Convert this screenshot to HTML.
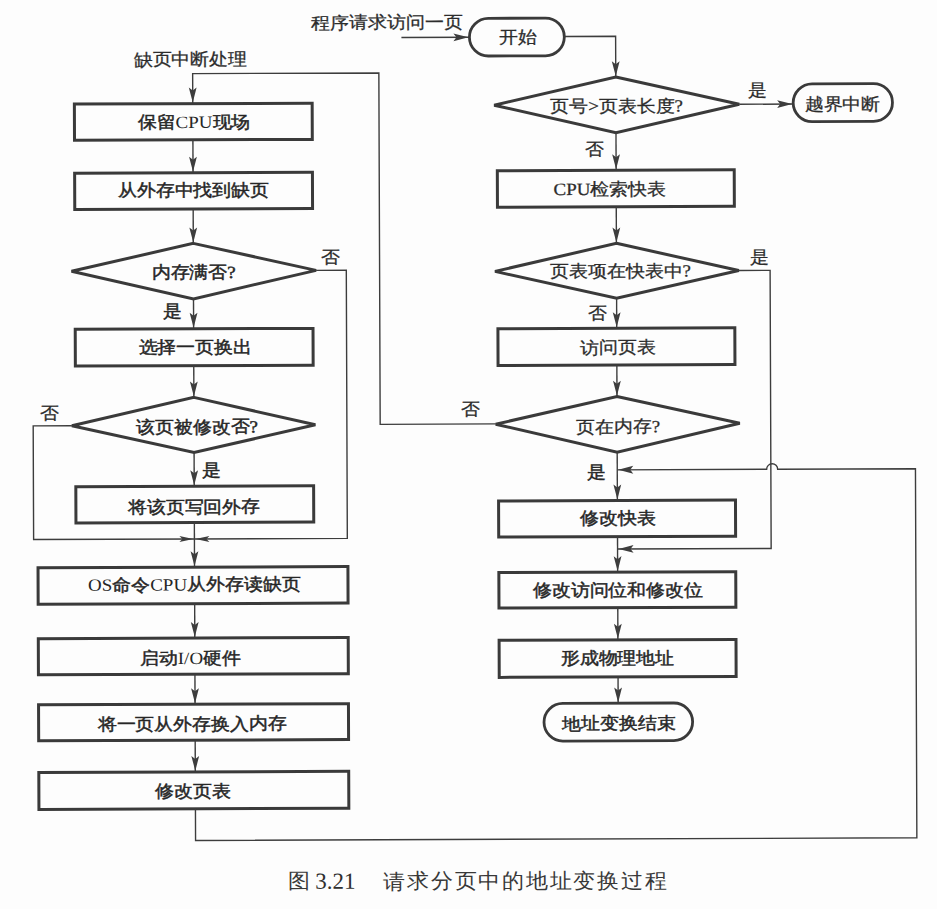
<!DOCTYPE html>
<html><head><meta charset="utf-8"><style>
html,body{margin:0;padding:0;background:#fdfdfd;}
body{width:937px;height:909px;overflow:hidden;position:relative;}
svg{position:absolute;left:0;top:0;}
text{font-family:"Liberation Serif",serif;fill:#303030;text-anchor:middle;}
text.b{fill:#262626;stroke:#262626;stroke-width:0.5px;}
text.r{fill:#2c2c2c;stroke:#2c2c2c;stroke-width:0.3px;}
text.c{fill:#383838;}
tspan.lat{stroke-width:0;}
</style></head><body>
<svg width="937" height="909" viewBox="0 0 937 909">
<g transform="rotate(-0.2177 468.5 454.5)">
<path d="M194.1,102.6 L194.1,72.6 L380.3,72.6 L380.3,424.0 L495.8,424.0" fill="none" stroke="#3d3d3d" stroke-width="1.4"/>
<path d="M194.1,101.5 L190.2,86.5 L194.1,89.5 L198.0,86.5Z" fill="#3d3d3d"/>
<rect x="75.7" y="102.6" width="237.8" height="36.2" fill="none" stroke="#3a3a3a" stroke-width="3.0"/>
<path d="M194.1,138.8 L194.1,171.7" fill="none" stroke="#3d3d3d" stroke-width="1.4"/>
<path d="M194.1,170.6 L190.2,155.6 L194.1,158.6 L198.0,155.6Z" fill="#3d3d3d"/>
<rect x="75.7" y="171.7" width="237.8" height="36.3" fill="none" stroke="#3a3a3a" stroke-width="3.0"/>
<path d="M194.1,208.0 L194.1,242.3" fill="none" stroke="#3d3d3d" stroke-width="1.4"/>
<path d="M194.1,241.5 L190.2,226.5 L194.1,229.5 L198.0,226.5Z" fill="#3d3d3d"/>
<path d="M194.1,242.3 L316.8,269.8 L194.1,297.8 L72.2,269.8Z" fill="none" stroke="#3a3a3a" stroke-width="3.0" stroke-linejoin="miter"/>
<path d="M316.8,269.8 L347.0,269.8 L347.0,537.9 L194.1,537.9" fill="none" stroke="#3d3d3d" stroke-width="1.4"/>
<path d="M195.1,537.9 L209.1,534.9 L206.1,537.9 L209.1,540.9Z" fill="#3d3d3d"/>
<path d="M194.1,297.8 L194.1,327.8" fill="none" stroke="#3d3d3d" stroke-width="1.4"/>
<path d="M194.1,326.8 L190.2,311.8 L194.1,314.8 L198.0,311.8Z" fill="#3d3d3d"/>
<rect x="75.7" y="327.8" width="237.8" height="36.8" fill="none" stroke="#3a3a3a" stroke-width="3.0"/>
<path d="M194.1,364.6 L194.1,396.3" fill="none" stroke="#3d3d3d" stroke-width="1.4"/>
<path d="M194.1,395.5 L190.2,380.5 L194.1,383.5 L198.0,380.5Z" fill="#3d3d3d"/>
<path d="M194.1,396.3 L315.5,424.2 L194.1,451.5 L72.0,424.2Z" fill="none" stroke="#3a3a3a" stroke-width="3.0" stroke-linejoin="miter"/>
<path d="M72.0,424.2 L33.3,424.2 L33.3,537.9 L194.1,537.9" fill="none" stroke="#3d3d3d" stroke-width="1.4"/>
<path d="M193.1,537.9 L179.1,534.9 L182.1,537.9 L179.1,540.9Z" fill="#3d3d3d"/>
<path d="M194.1,451.5 L194.1,485.2" fill="none" stroke="#3d3d3d" stroke-width="1.4"/>
<path d="M194.1,484.2 L190.2,469.2 L194.1,472.2 L198.0,469.2Z" fill="#3d3d3d"/>
<rect x="75.7" y="485.2" width="237.8" height="36.3" fill="none" stroke="#3a3a3a" stroke-width="3.0"/>
<path d="M194.1,521.5 L194.1,566.1" fill="none" stroke="#3d3d3d" stroke-width="1.4"/>
<path d="M194.1,565.1 L190.2,550.1 L194.1,553.1 L198.0,550.1Z" fill="#3d3d3d"/>
<rect x="37.6" y="566.1" width="309.9" height="36.5" fill="none" stroke="#3a3a3a" stroke-width="3.0"/>
<path d="M194.1,602.6 L194.1,637.0" fill="none" stroke="#3d3d3d" stroke-width="1.4"/>
<path d="M194.1,636.0 L190.2,621.0 L194.1,624.0 L198.0,621.0Z" fill="#3d3d3d"/>
<rect x="37.6" y="637.0" width="309.9" height="36.2" fill="none" stroke="#3a3a3a" stroke-width="3.0"/>
<path d="M194.1,673.2 L194.1,703.2" fill="none" stroke="#3d3d3d" stroke-width="1.4"/>
<path d="M194.1,702.2 L190.2,687.2 L194.1,690.2 L198.0,687.2Z" fill="#3d3d3d"/>
<rect x="37.6" y="703.2" width="309.9" height="35.9" fill="none" stroke="#3a3a3a" stroke-width="3.0"/>
<path d="M194.1,739.1 L194.1,770.9" fill="none" stroke="#3d3d3d" stroke-width="1.4"/>
<path d="M194.1,769.9 L190.2,754.9 L194.1,757.9 L198.0,754.9Z" fill="#3d3d3d"/>
<rect x="37.6" y="770.9" width="309.9" height="36.9" fill="none" stroke="#3a3a3a" stroke-width="3.0"/>
<path d="M194.1,807.8 L194.1,839.45 L915.4,839.45 L915.4,470.4 L777.6,470.4 A5.5,5.5 0 0 0 766.6,470.4 L617.2,470.4" fill="none" stroke="#3d3d3d" stroke-width="1.4"/>
<path d="M618.2,470.4 L633.2,466.5 L630.2,470.4 L633.2,474.3Z" fill="#3d3d3d"/>
<path d="M403.0,37.3 L471.0,37.3" fill="none" stroke="#3d3d3d" stroke-width="1.4"/>
<path d="M470.0,37.3 L455.0,33.4 L458.0,37.3 L455.0,41.2Z" fill="#3d3d3d"/>
<rect x="471.0" y="18.4" width="94.9" height="37.7" rx="18.9" ry="18.9" fill="none" stroke="#3a3a3a" stroke-width="2.8"/>
<path d="M565.9,36.8 L617.2,36.8 L617.2,77.6" fill="none" stroke="#3d3d3d" stroke-width="1.4"/>
<path d="M617.2,76.8 L613.3,61.8 L617.2,64.8 L621.1,61.8Z" fill="#3d3d3d"/>
<path d="M617.2,77.6 L740.6,105.3 L617.2,133.2 L495.5,105.3Z" fill="none" stroke="#3a3a3a" stroke-width="3.0" stroke-linejoin="miter"/>
<path d="M740.6,105.3 L794.5,105.3" fill="none" stroke="#3d3d3d" stroke-width="1.4"/>
<path d="M793.5,105.3 L778.5,101.4 L781.5,105.3 L778.5,109.2Z" fill="#3d3d3d"/>
<rect x="794.5" y="85.1" width="99.3" height="37.9" rx="19.0" ry="19.0" fill="none" stroke="#3a3a3a" stroke-width="2.8"/>
<path d="M617.2,133.2 L617.2,170.8" fill="none" stroke="#3d3d3d" stroke-width="1.4"/>
<path d="M617.2,169.8 L613.3,154.8 L617.2,157.8 L621.1,154.8Z" fill="#3d3d3d"/>
<rect x="498.4" y="170.8" width="236.9" height="36.5" fill="none" stroke="#3a3a3a" stroke-width="3.0"/>
<path d="M617.2,207.3 L617.2,243.9" fill="none" stroke="#3d3d3d" stroke-width="1.4"/>
<path d="M617.2,243.0 L613.3,228.0 L617.2,231.0 L621.1,228.0Z" fill="#3d3d3d"/>
<path d="M617.2,243.9 L739.5,271.5 L617.2,298.9 L495.7,271.5Z" fill="none" stroke="#3a3a3a" stroke-width="3.0" stroke-linejoin="miter"/>
<path d="M739.5,271.5 L770.8,271.5 L770.8,549.6 L617.2,549.6" fill="none" stroke="#3d3d3d" stroke-width="1.4"/>
<path d="M618.2,549.6 L633.2,545.7 L630.2,549.6 L633.2,553.5Z" fill="#3d3d3d"/>
<path d="M617.2,298.9 L617.2,328.8" fill="none" stroke="#3d3d3d" stroke-width="1.4"/>
<path d="M617.2,327.8 L613.3,312.8 L617.2,315.8 L621.1,312.8Z" fill="#3d3d3d"/>
<rect x="498.4" y="328.8" width="236.9" height="36.8" fill="none" stroke="#3a3a3a" stroke-width="3.0"/>
<path d="M617.2,365.6 L617.2,397.1" fill="none" stroke="#3d3d3d" stroke-width="1.4"/>
<path d="M617.2,396.3 L613.3,381.3 L617.2,384.3 L621.1,381.3Z" fill="#3d3d3d"/>
<path d="M617.2,397.1 L739.9,424.3 L617.2,452.8 L495.8,424.3Z" fill="none" stroke="#3a3a3a" stroke-width="3.0" stroke-linejoin="miter"/>
<path d="M617.2,452.8 L617.2,501.1" fill="none" stroke="#3d3d3d" stroke-width="1.4"/>
<path d="M617.2,500.1 L613.3,485.1 L617.2,488.1 L621.1,485.1Z" fill="#3d3d3d"/>
<rect x="498.4" y="501.1" width="236.9" height="36.1" fill="none" stroke="#3a3a3a" stroke-width="3.0"/>
<path d="M617.2,537.2 L617.2,572.7" fill="none" stroke="#3d3d3d" stroke-width="1.4"/>
<path d="M617.2,571.7 L613.3,556.7 L617.2,559.7 L621.1,556.7Z" fill="#3d3d3d"/>
<rect x="498.4" y="572.7" width="236.9" height="35.5" fill="none" stroke="#3a3a3a" stroke-width="3.0"/>
<path d="M617.2,608.2 L617.2,640.4" fill="none" stroke="#3d3d3d" stroke-width="1.4"/>
<path d="M617.2,639.4 L613.3,624.4 L617.2,627.4 L621.1,624.4Z" fill="#3d3d3d"/>
<rect x="498.4" y="640.4" width="236.9" height="37.1" fill="none" stroke="#3a3a3a" stroke-width="3.0"/>
<path d="M617.2,677.5 L617.2,703.8" fill="none" stroke="#3d3d3d" stroke-width="1.4"/>
<path d="M617.2,703.0 L613.3,688.0 L617.2,691.0 L621.1,688.0Z" fill="#3d3d3d"/>
<rect x="543.0" y="703.8" width="148.6" height="37.6" rx="18.8" ry="18.8" fill="none" stroke="#3a3a3a" stroke-width="2.8"/>
<text transform="translate(191.90,58.09) scale(1,0.9)" x="0" y="6.84" font-size="19" class="r">缺页中断处理</text>
<text transform="translate(388.39,21.84) scale(1,0.9)" x="0" y="6.84" font-size="19" class="r">程序请求访问一页</text>
<text transform="translate(195.31,120.66) scale(1,0.9)" x="0" y="6.84" font-size="19" class="b">保留<tspan class="lat">CPU</tspan>现场</text>
<text transform="translate(194.45,188.75) scale(1,0.9)" x="0" y="6.84" font-size="19" class="b">从外存中找到缺页</text>
<text transform="translate(194.34,270.86) scale(1,0.9)" x="0" y="6.84" font-size="19" class="b">内存满否?</text>
<text transform="translate(330.85,256.57) scale(1,0.9)" x="0" y="6.84" font-size="19" class="r">否</text>
<text transform="translate(172.74,309.52) scale(1,0.9)" x="0" y="6.84" font-size="19" class="b">是</text>
<text transform="translate(195.71,345.51) scale(1,0.9)" x="0" y="6.84" font-size="19" class="b">选择一页换出</text>
<text transform="translate(197.01,425.42) scale(1,0.9)" x="0" y="6.84" font-size="19" class="b">该页被修改否?</text>
<text transform="translate(49.91,411.36) scale(1,0.9)" x="0" y="6.84" font-size="19" class="r">否</text>
<text transform="translate(211.09,468.97) scale(1,0.9)" x="0" y="6.84" font-size="19" class="b">是</text>
<text transform="translate(193.75,505.41) scale(1,0.9)" x="0" y="6.84" font-size="19" class="b">将该页写回外存</text>
<text transform="translate(193.81,583.21) scale(1,0.9)" x="0" y="6.84" font-size="19" class="b"><tspan class="lat">OS</tspan>命令<tspan class="lat">CPU</tspan>从外存读缺页</text>
<text transform="translate(189.63,656.79) scale(1,0.9)" x="0" y="6.84" font-size="19" class="b">启动<tspan class="lat">I/O</tspan>硬件</text>
<text transform="translate(191.17,722.45) scale(1,0.9)" x="0" y="6.84" font-size="19" class="b">将一页从外存换入内存</text>
<text transform="translate(191.87,789.40) scale(1,0.9)" x="0" y="6.84" font-size="19" class="b">修改页表</text>
<text transform="translate(519.53,37.14) scale(1,0.9)" x="0" y="6.84" font-size="19" class="r">开始</text>
<text transform="translate(618.03,106.06) scale(1,0.9)" x="0" y="6.84" font-size="19" class="r">页号&gt;页表长度?</text>
<text transform="translate(758.88,90.85) scale(1,0.9)" x="0" y="6.84" font-size="19" class="r">是</text>
<text transform="translate(843.73,105.22) scale(1,0.9)" x="0" y="6.84" font-size="19" class="r">越界中断</text>
<text transform="translate(595.71,149.08) scale(1,0.9)" x="0" y="6.84" font-size="19" class="r">否</text>
<text transform="translate(610.81,189.14) scale(1,0.9)" x="0" y="6.84" font-size="19" class="r">CPU检索快表</text>
<text transform="translate(621.25,271.23) scale(1,0.9)" x="0" y="6.84" font-size="19" class="r">页表项在快表中?</text>
<text transform="translate(760.15,257.70) scale(1,0.9)" x="0" y="6.84" font-size="19" class="r">是</text>
<text transform="translate(598.09,313.59) scale(1,0.9)" x="0" y="6.84" font-size="19" class="r">否</text>
<text transform="translate(618.36,347.77) scale(1,0.9)" x="0" y="6.84" font-size="19" class="r">访问页表</text>
<text transform="translate(618.21,426.82) scale(1,0.9)" x="0" y="6.84" font-size="19" class="r">页在内存?</text>
<text transform="translate(470.32,408.61) scale(1,0.9)" x="0" y="6.84" font-size="19" class="r">否</text>
<text transform="translate(595.98,471.84) scale(1,0.9)" x="0" y="6.84" font-size="19" class="b">是</text>
<text transform="translate(618.01,518.52) scale(1,0.9)" x="0" y="6.84" font-size="19" class="b">修改快表</text>
<text transform="translate(617.38,590.52) scale(1,0.9)" x="0" y="6.84" font-size="19" class="b">修改访问位和修改位</text>
<text transform="translate(616.67,658.22) scale(1,0.9)" x="0" y="6.84" font-size="19" class="b">形成物理地址</text>
<text transform="translate(617.63,723.72) scale(1,0.9)" x="0" y="6.84" font-size="19" class="b">地址变换结束</text>
<text transform="translate(296.68,879.80) scale(1,0.95)" x="0" y="7.92" font-size="22" class="c">图</text>
<text transform="translate(333.73,879.99) scale(1,1.0)" x="0" y="8.28" font-size="23" class="n">3.21</text>
<text transform="translate(523.13,880.66) scale(1,0.95)" x="1.1" y="7.92" font-size="22" class="c" letter-spacing="2.2">请求分页中的地址变换过程</text>
</g>
</svg>
</body></html>
